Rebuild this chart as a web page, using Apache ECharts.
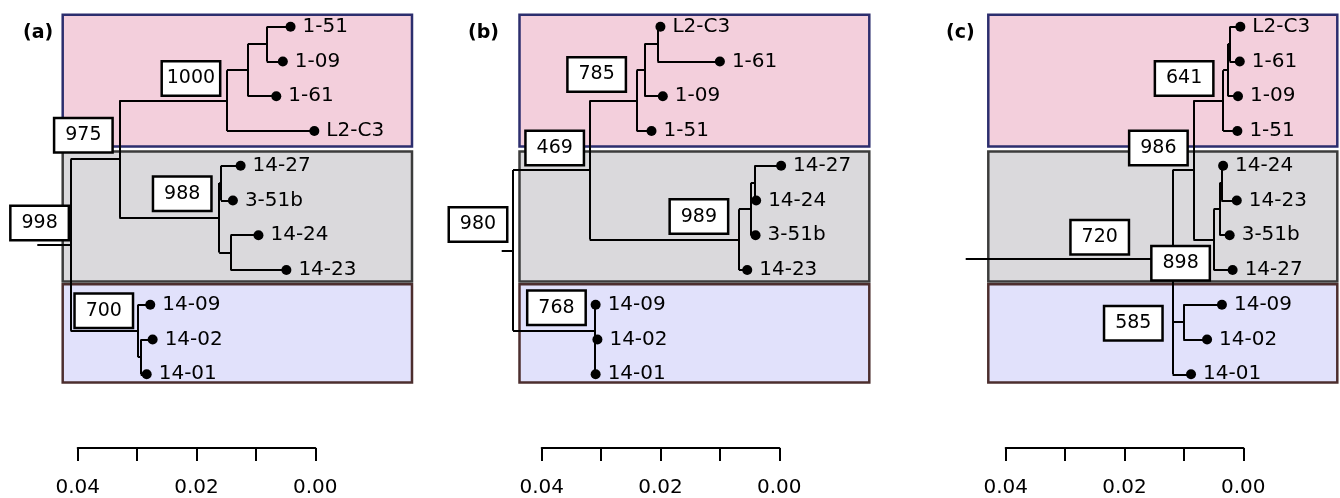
<!DOCTYPE html>
<html>
<head>
<meta charset="utf-8">
<script src="https://cdn.jsdelivr.net/npm/echarts@6/dist/echarts.min.js"></script>
<style>
html, body { margin: 0; padding: 0; background: #fff; }
#chart { width: 1340px; height: 498px; }
</style>
</head>
<body>
<div id="chart"></div>
<script>
// trees: branch lengths in subst./site, internal labels = bootstrap
const treeA = '(((((1-51:0.0040,1-09:0.0027):0.0032,1-61:0.0048):0.0035,L2-C3:0.0147)1000:0.0181,((14-27:0.0033,3-51b:0.0020):0.0003,(14-24:0.0047,14-23:0.0094):0.0019)988:0.0168)975:0.0082,(14-09:0.0021,(14-02:0.0020,14-01:0.0010):0.0005)700:0.0113)998:0.0056;';
const treeB = '(((((L2-C3:0.0005,1-61:0.0105):0.0022,1-09:0.0031):0.0013,1-51:0.0025)785:0.0079,(((14-27:0.0045,14-24:0.0003):0.0006,3-51b:0.0008):0.0020,14-23:0.0014)989:0.0251)469:0.0129,(14-09:0.0002,(14-02:0.0004,14-01:0.0001):0.0001)768:0.0137)980:0.0019;';
const treeC = '((((((L2-C3:0.0018,1-61:0.0017):0.0003,1-09:0.0017):0.0008,1-51:0.0024)641:0.0050,(((14-24:0.0003,14-23:0.0026):0.0003,3-51b:0.0017):0.0010,14-27:0.0032):0.0034)986:0.0035,((14-09:0.0065,14-02:0.0040)585:0.0018,14-01:0.0031):0)898:0.0348)720;';
const panelNames = ['(a)', '(b)', '(c)'];
const groupRows = [[0, 3], [4, 7], [8, 10]];
const scaleTicks = [0.04, 0.02, 0.00];
const scaleLabels = ['0.04', '0.02', '0.00'];

// layout, in pixels
const PPU = 5945;               // px per unit of branch length
const FONT = 'DejaVu Sans, sans-serif';
const rowTop = 9.3, rowH = 34.76;
const rootX = [37.3, 501.7, 965.7];
const boxX = [[62.7, 412], [519.5, 869.3], [988.3, 1337.3]];
const barX = [77.7, 541.7, 1005.7];
const titleX = [23, 468, 946];
const boxPad = [[0.34, 0.45], [0.41, 0.33], [0.59, 0.24]];
const boxFill = ['#f3cfdc', '#dad9dc', '#e1e1fb'];
const boxLine = ['#2c2e6e', '#3c3c3c', '#4c2e2e'];
// where each bootstrap box sits relative to its node
const labelShift = [
    {'1000': [-36, -22], '975': [-36, -24], '988': [-37, -24], '998': [-31, -22], '700': [-34, -20]},
    {'785': [-40, -26], '469': [-35, -22], '989': [-40, -23], '980': [-35, -26], '768': [-38, -23]},
    {'641': [-39, -22], '986': [-35, -22], '720': [134, -22], '898': [8, 4], '585': [-50, 1]}
];

function parseNewick(s) {
    let i = 0;
    function node() {
        const n = {children: [], name: '', len: 0};
        if (s[i] === '(') {
            i++;
            n.children.push(node());
            while (s[i] === ',') { i++; n.children.push(node()); }
            i++;
        }
        while (i < s.length && ':,);'.indexOf(s[i]) < 0) n.name += s[i++];
        if (s[i] === ':') {
            i++;
            let num = '';
            while (i < s.length && ',);'.indexOf(s[i]) < 0) num += s[i++];
            n.len = parseFloat(num);
        }
        return n;
    }
    return node();
}

function layoutTree(root) {
    let row = 0;
    const tips = [], inner = [], segs = [];
    (function walk(n, x) {
        n.x = x;
        if (!n.children.length) { n.y = row++; tips.push(n); return; }
        n.children.forEach(c => walk(c, x + c.len));
        n.y = (n.children[0].y + n.children[n.children.length - 1].y) / 2;
        inner.push(n);
        const first = n.children[0], last = n.children[n.children.length - 1];
        if (first.y !== last.y) segs.push([[x, first.y], [x, last.y]]);
        n.children.forEach(c => segs.push([[x, c.y], [c.x, c.y]]));
    })(root, root.len);
    if (root.len > 0) segs.push([[0, root.y], [root.x, root.y]]);
    return {tips, inner, segs};
}

const trees = [treeA, treeB, treeC].map(t => layoutTree(parseNewick(t)));

let myChart = echarts.init(document.getElementById('chart'));
let grid = [], xAxis = [], yAxis = [], series = [];

trees.forEach((t, i) => {
    const w = boxX[i][1] - rootX[i];
    grid.push({left: rootX[i], top: rowTop, width: w, height: rowH * 11});
    xAxis.push({gridIndex: i, type: 'value', min: 0, max: w / PPU, show: false});
    yAxis.push({gridIndex: i, type: 'value', min: -0.5, max: 10.5, inverse: true, show: false});

    series.push({
        type: 'line',
        xAxisIndex: i,
        yAxisIndex: i,
        data: [],
        z: 1,
        markArea: {
            silent: true,
            label: {show: false},
            data: groupRows.map((g, k) => [
                {
                    xAxis: (boxX[i][0] - rootX[i]) / PPU,
                    yAxis: g[0] - boxPad[k][0],
                    itemStyle: {color: boxFill[k], borderColor: boxLine[k], borderWidth: 2.5, opacity: 1}
                },
                {xAxis: w / PPU, yAxis: g[1] + boxPad[k][1]}
            ])
        }
    });
    series.push({
        type: 'lines',
        coordinateSystem: 'cartesian2d',
        xAxisIndex: i,
        yAxisIndex: i,
        z: 3,
        silent: true,
        lineStyle: {color: '#000', width: 2, opacity: 1, curveness: 0},
        data: t.segs.map(s => ({coords: s}))
    });
    series.push({
        type: 'scatter',
        xAxisIndex: i,
        yAxisIndex: i,
        z: 4,
        silent: true,
        symbolSize: 10,
        itemStyle: {color: '#000', opacity: 1},
        label: {
            show: true, position: 'right', distance: 7, formatter: '{b}',
            color: '#000', fontSize: 20, fontFamily: FONT
        },
        data: t.tips.map(n => ({name: n.name, value: [n.x, n.y]}))
    });
    series.push({
        type: 'scatter',
        xAxisIndex: i,
        yAxisIndex: i,
        z: 5,
        silent: true,
        symbolSize: 0,
        itemStyle: {opacity: 1},
        label: {
            show: true, position: 'inside', formatter: '{b}',
            color: '#000', fontSize: 19, fontFamily: FONT, lineHeight: 22,
            backgroundColor: '#fff', borderColor: '#000', borderWidth: 2.5,
            padding: [5, 4], width: 48, align: 'center', verticalAlign: 'middle'
        },
        data: t.inner.filter(n => n.name).map(n => ({
            name: n.name,
            value: [n.x, n.y],
            label: {offset: labelShift[i][n.name] || [-36, -23]}
        }))
    });
});

// scale bars
trees.forEach((t, i) => {
    const g = grid.length;
    grid.push({left: barX[i], top: 447, width: 237.6, height: 1});
    xAxis.push({
        gridIndex: g, type: 'value', min: 0, max: 0.04, interval: 0.01, inverse: true,
        position: 'bottom',
        splitLine: {show: false},
        axisLine: {show: true, lineStyle: {color: '#000', width: 2}},
        axisTick: {show: true, length: 13, lineStyle: {color: '#000', width: 2}},
        axisLabel: {
            margin: 30, color: '#000', fontSize: 20, fontFamily: FONT,
            showMinLabel: true, showMaxLabel: true,
            formatter: function (v) {
                const k = scaleTicks.findIndex(s => Math.abs(s - v) < 1e-9);
                return k >= 0 ? scaleLabels[k] : '';
            }
        }
    });
    yAxis.push({gridIndex: g, type: 'value', show: false});
});

let option = {
    animation: false,
    title: panelNames.map((p, i) => ({
        text: p, left: titleX[i], top: 24, padding: 0,
        textStyle: {fontSize: 19, fontWeight: 'bold', fontFamily: FONT, color: '#000'}
    })),
    grid: grid,
    xAxis: xAxis,
    yAxis: yAxis,
    series: series
};
myChart.setOption(option);
</script>
</body>
</html>
